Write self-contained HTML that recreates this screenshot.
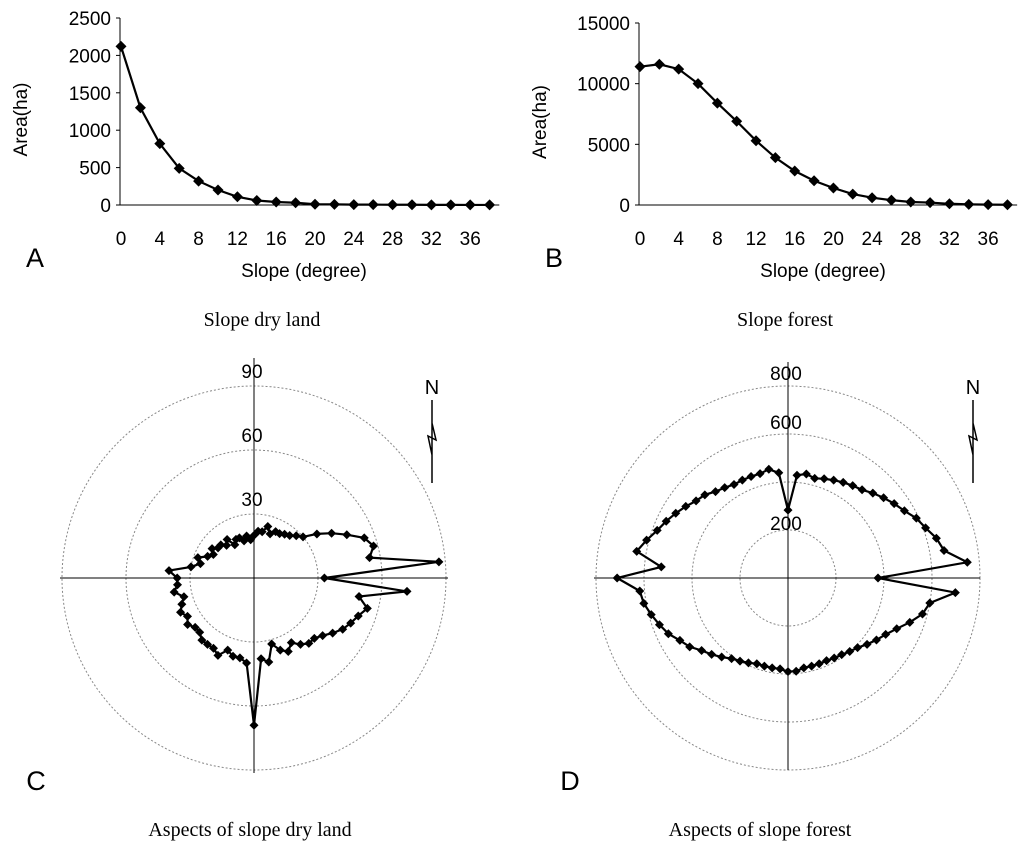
<!DOCTYPE html>
<html><head><meta charset="utf-8"><style>
body{margin:0;background:#fff;width:1024px;height:854px;overflow:hidden}
svg{display:block}
</style></head><body>
<svg id="s" width="1024" height="854" xmlns="http://www.w3.org/2000/svg" font-family="Liberation Sans, sans-serif"></svg>
<script>
const slopeCats=[0,2,4,6,8,10,12,14,16,18,20,22,24,26,28,30,32,34,36,38];
const dryLandArea=[2120,1300,820,490,320,200,110,60,40,30,10,8,5,5,3,3,2,2,1,1];
const forestArea=[11400,11600,11200,10000,8400,6900,5300,3900,2800,2000,1400,900,600,400,250,200,100,50,30,20];
const xTicks=[0,4,8,12,16,20,24,28,32,36];
const yTicksA=[0,500,1000,1500,2000,2500];
const yTicksB=[0,5000,10000,15000];
const aspectAngles=[];for(let a=0;a<360;a+=5)aspectAngles.push(a);
const dryAspect=[20,22,22,25,22,24,24,25,26,28,30,36,42,48,55,58,55,87,33,72,50,55,52,50,48,45,42,40,40,38,35,38,36,32,40,38,69,40,38,38,36,40,38,38,38,36,36,38,36,38,36,34,38,36,36,40,30,26,28,24,22,24,22,22,20,22,18,20,20,18,20,18];
const forestAspect=[283,430,440,430,440,450,460,470,480,500,520,540,560,590,610,640,660,750,375,700,600,580,540,500,470,450,430,410,400,390,385,380,380,380,380,390,390,380,380,380,380,390,400,410,430,450,470,500,520,550,570,590,610,620,712,530,640,610,580,560,540,520,500,490,470,460,450,450,450,450,460,440];
const ringsC=[30,60,90];const ringsD=[200,400,600,800];
const ringLabelsD=['200','','600','800'];

const S=document.getElementById('s');const NS='http://www.w3.org/2000/svg';
function el(t,a,p){const e=document.createElementNS(NS,t);for(const k in a)e.setAttribute(k,a[k]);(p||S).appendChild(e);return e;}
function txt(x,y,s,size,anchor,fam,name){const t=el('text',{x:x,y:y,'font-size':size,'text-anchor':anchor||'middle',fill:'#000'});if(fam)t.setAttribute('font-family',fam);t.textContent=s;

return t;}
function diamond(x,y,r,g){const p=el('polygon',{points:`${x},${y-r} ${x+r},${y} ${x},${y+r} ${x-r},${y}`,fill:'#000'},g);

}

function lineChart(x0,pxPerDeg,y0,yTop,ymax,ticks,vals,label,prefix){
 const g=el('g',{});
 
 
 const X=v=>x0+v*pxPerDeg, Y=v=>y0-(y0-yTop)*v/ymax;
 const right=X(39);
 const ax=el('path',{d:`M${x0-1},${yTop} V${y0} H${right}`,stroke:'#000',fill:'none','stroke-width':1},g);
 
 
 ticks.forEach(t=>{txt(x0-10,Y(t)+7,String(t),19,'end',null,prefix+'-y-tick');el('line',{x1:x0-5,x2:x0-1,y1:Y(t),y2:Y(t),stroke:'#000'},g);});
 xTicks.forEach(t=>{txt(X(t),Y(0)+40,String(t),19,'middle',null,prefix+'-x-tick');});
 let d='';vals.forEach((v,i)=>{d+=(i?'L':'M')+X(slopeCats[i])+','+Y(v);});
 const ln=el('path',{d:d,stroke:'#000',fill:'none','stroke-width':2.2},g);
 
 
 vals.forEach((v,i)=>diamond(X(slopeCats[i]),Y(v),5.5,g));
 txt(x0+183,Y(0)+72,'Slope (degree)',19,'middle',null,prefix+'-x-axis-title');
 const yt=txt(0,0,'Area(ha)',19,'middle',null,prefix+'-y-axis-title');
 yt.setAttribute('transform',`translate(${x0-94},${(y0+yTop)/2+8}) rotate(-90)`);
 txt(x0-86,Y(0)+62,label,27,'middle',null,prefix+'-panel-label');
}
lineChart(121,9.7,205,18,2500,yTicksA,dryLandArea,'A','dry-land-slope');
lineChart(640,9.67,205,23,15000,yTicksB,forestArea,'B','forest-slope');
txt(262,326,'Slope dry land',20,'middle','Liberation Serif, serif','title-slope-dry-land');
txt(785,326,'Slope forest',20,'middle','Liberation Serif, serif','title-slope-forest');

function polar(cx,cy,pxPerUnit,rings,labels,vals,x1,x2,yt,yb,label,labelOffsets,prefix,nx){
 const g=el('g',{});
 
 
 rings.forEach((r,i)=>{const c=el('circle',{cx:cx,cy:cy,r:r*pxPerUnit,fill:'none',stroke:'#888','stroke-width':1,'stroke-dasharray':'2,2'},g);
  
  
  if(labels[i])txt(cx-2,cy-r*pxPerUnit+labelOffsets[i],labels[i],19,'middle',null,prefix+'-ring-label');});
 el('line',{x1:x1,x2:x2,y1:cy,y2:cy,stroke:'#000'},g);
 el('line',{x1:cx,x2:cx,y1:yt,y2:yb,stroke:'#000'},g);
 const P=(a,v)=>{const r=v*pxPerUnit,t=a*Math.PI/180;return[cx+r*Math.sin(t),cy-r*Math.cos(t)];};
 let d='';vals.forEach((v,i)=>{const p=P(aspectAngles[i],v);d+=(i?'L':'M')+p[0].toFixed(1)+','+p[1].toFixed(1);});d+='Z';
 const ln=el('path',{d:d,stroke:'#000',fill:'none','stroke-width':2.2},g);
 
 
 vals.forEach((v,i)=>{const p=P(aspectAngles[i],v);diamond(p[0],p[1],4.5,g);});
 txt(nx,394,'N',20,'middle',null,prefix+'-north-label');
 const ar=el('path',{d:`M${nx},400 V483 M${nx},423 L${nx+4},440 L${nx-4},436 L${nx},455`,stroke:'#000',fill:'none','stroke-width':1.5},g);
 
 
 txt(cx-218,790,label,27,'middle',null,prefix+'-panel-label');
}
polar(254,578,192/90,ringsC,ringsC.map(String),dryAspect,60,448,358,773,'C',[-8,-8,-8],'dry-land-aspect',432);
polar(788,578,192/800,ringsD,ringLabelsD,forestAspect,594,980,362,770,'D',[0,-5,-5,-6],'forest-aspect',973);
txt(250,836,'Aspects of slope dry land',20,'middle','Liberation Serif, serif','title-aspect-dry-land');
txt(760,836,'Aspects of slope forest',20,'middle','Liberation Serif, serif','title-aspect-forest');
</script>
</body></html>
